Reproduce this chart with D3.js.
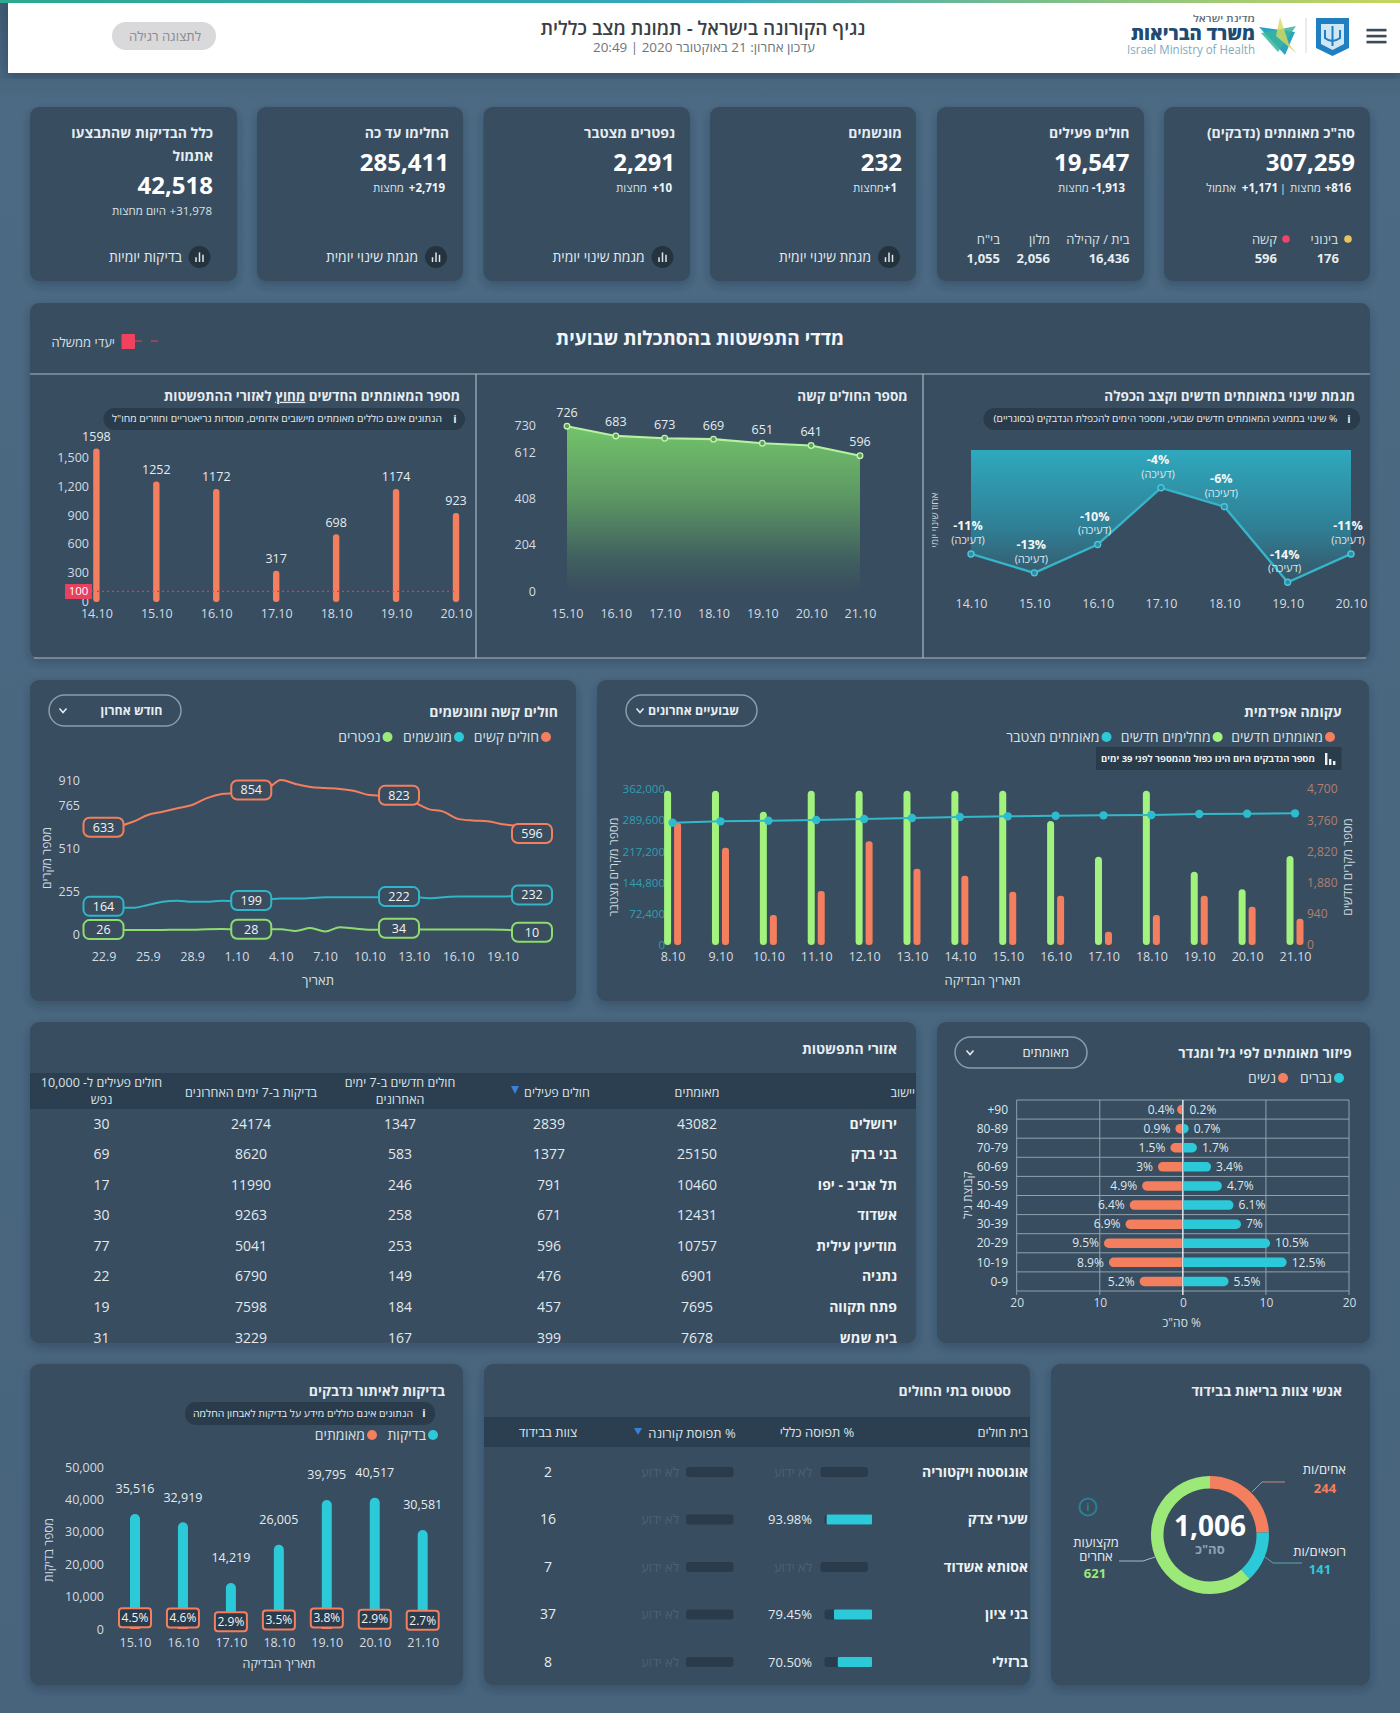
<!DOCTYPE html>
<html lang="he"><head><meta charset="utf-8"><title>נגיף הקורונה בישראל</title>
<script src="https://cdnjs.cloudflare.com/ajax/libs/d3/7.8.5/d3.min.js"></script>
<style>html,body{margin:0;padding:0;background:#48647c;overflow:hidden}svg{display:block}text{font-family:"Open Sans","Liberation Sans","DejaVu Sans",sans-serif}</style>
</head><body><svg id="c" width="1400" height="1713" viewBox="0 0 1400 1713"></svg>
<script>
// ---------- data ----------
const weekA=['14.10','15.10','16.10','17.10','18.10','19.10','20.10'];
const weekB=['15.10','16.10','17.10','18.10','19.10','20.10','21.10'];
const outsideCases=[1598,1252,1172,317,698,1174,923];
const outsideTicks=[0,300,600,900,1200,1500];
const severeWeek=[726,683,673,669,651,641,596];
const severeWeekTicks=[0,204,408,612,730];
const changePct=[-11,-13,-10,-4,-6,-14,-11];
const trendDays=['22.9','23.9','24.9','25.9','26.9','27.9','28.9','29.9','30.9','1.10','2.10','3.10','4.10','5.10','6.10','7.10','8.10','9.10','10.10','11.10','12.10','13.10','14.10','15.10','16.10','17.10','18.10','19.10','20.10','21.10'];
const trendTickDays=['22.9','25.9','28.9','1.10','4.10','7.10','10.10','13.10','16.10','19.10'];
const severeSeries=[633,640,666,706,725,746,765,806,830,836,854,860,913,890,872,866,860,848,824,820,823,783,741,726,683,673,669,651,641,596];
const ventSeries=[164,156,155,172,191,197,191,191,197,195,199,205,210,210,213,218,218,218,218,218,222,220,212,218,222,222,222,222,228,232];
const deathSeries=[26,24,24,24,24,25,25,28,29,28,28,28,28,18,35,15,40,32,25,27,34,28,27,27,26,26,26,25,20,10];
const trendBoxIdx=[0,10,20,29];
const trendTicks=[0,255,510,765,910];
const epiDays=['8.10','9.10','10.10','11.10','12.10','13.10','14.10','15.10','16.10','17.10','18.10','19.10','20.10','21.10'];
const epiRecovered=[4650,4650,4018,4650,4650,4650,4650,4650,3736,2662,4650,2210,1677,2682];
const epiNew=[3686,2933,904,1627,3123,2300,2089,1607,1486,402,904,1486,1155,794];
const epiCumulative=[283900,286960,288500,290060,292400,294700,297000,298570,300100,300900,301670,304000,304760,305540];
const epiLeftTicks=[0,72400,144800,217200,289600,362000];
const epiRightTicks=[0,940,1880,2820,3760,4700];
const ageGroups=['+90','80-89','70-79','60-69','50-59','40-49','30-39','20-29','10-19','0-9'];
const agesWomen=[0.4,0.9,1.5,3,4.9,6.4,6.9,9.5,8.9,5.2];
const agesMen=[0.2,0.7,1.7,3.4,4.7,6.1,7,10.5,12.5,5.5];
const ageTicks=[-20,-10,0,10,20];
const cityHeads=[['יישוב'],['מאומתים'],['חולים פעילים'],['חולים חדשים ב-7 ימים','האחרונים'],['בדיקות ב-7 ימים האחרונים'],['חולים פעילים ל- 10,000','נפש']];
const cities=['ירושלים','בני ברק','תל אביב - יפו','אשדוד','מודיעין עילית','נתניה','פתח תקווה','בית שמש'];
const cityConfirmed=[43082,25150,10460,12431,10757,6901,7695,7678];
const cityActive=[2839,1377,791,671,596,476,457,399];
const cityNew7=[1347,583,246,258,253,149,184,167];
const cityTests7=[24174,8620,11990,9263,5041,6790,7598,3229];
const cityPer10k=[30,69,17,30,77,22,19,31];
const tests=[35516,32919,14219,26005,39795,40517,30581];
const testPct=[4.5,4.6,2.9,3.5,3.8,2.9,2.7];
const testTicks=[0,10000,20000,30000,40000,50000];
const hospitals=['אוגוסטה ויקטוריה','שערי צדק','אסותא אשדוד','בני ציון','ברזילי'];
const hospGeneral=[null,95.5,null,80,72];
const hospGeneralLabel=['לא ידוע','93.98%','לא ידוע','79.45%','70.50%'];
const hospStaff=[2,16,7,37,8];
const staffLabels=['אחים/ות','רופאים/ות','מקצועות אחרים'];
const staffValues=[244,141,621];

// ---------- palette ----------
const ORANGE='#f47f5e',TEAL='#2cc9d8',GREEN='#9ce878',BRIGHT='#a2f27e',CARD='#394d5f',TXT='#e6ecf1',TICK='#d3dce3',DARK='#2a3c4c';
const svg=d3.select('#c');
const defs=svg.append('defs');
function grad(id,stops,y1,y2,x2){const g=defs.append('linearGradient').attr('id',id).attr('gradientUnits','userSpaceOnUse');
 if(x2!==undefined){g.attr('x1',0).attr('x2',x2).attr('y1',0).attr('y2',0)}else{g.attr('x1',0).attr('x2',0).attr('y1',y1).attr('y2',y2)}
 stops.forEach(s=>g.append('stop').attr('offset',s[0]).attr('stop-color',s[1]));}
grad('bg',[[0,'#3f5a72'],[.06,'#4c6a83'],[1,'#48647d']],0,1713);
grad('strip',[[0,'#2ea98f'],[.5,'#34a7bb'],[1,'#c6d65c']],0,0,1400);
grad('gArea',[[0,'#72c46a'],[.45,'#5b9563'],[.8,'#40605f'],[1,CARD]],426,591);
grad('tArea',[[0,'#2fa9be'],[.55,'#2f7f95'],[1,CARD]],449,592);
defs.append('filter').attr('id','sh').attr('x','-5%').attr('y','-5%').attr('width','110%').attr('height','112%')
 .append('feDropShadow').attr('dx',0).attr('dy',4).attr('stdDeviation',5).attr('flood-color','#1d2c3a').attr('flood-opacity',.35);
defs.append('clipPath').attr('id','cityClip').append('rect').attr('x',30).attr('y',1022).attr('width',886).attr('height',321);

const HE=/[\u0590-\u05FF]/;
function T(g,x,y,s,o={}){const he=HE.test(s);const a=o.a||'r';
 const anchor=he?{r:'start',m:'middle',l:'end'}[a]:{r:'end',m:'middle',l:'start'}[a];
 const n=g.append('text').attr('x',x).attr('y',y).attr('dy','.35em').attr('text-anchor',anchor)
  .attr('font-size',o.size||13).attr('font-weight',o.w||400).attr('fill',o.fill||TXT).style('direction',he?'rtl':'ltr').text(s);
 if(o.rot)n.attr('transform',`rotate(${o.rot} ${x} ${y})`);
 if(o.op)n.attr('opacity',o.op);
 if(o.len)n.attr('textLength',o.len).attr('lengthAdjust','spacingAndGlyphs');
 return n;}
function card(x,y,x2,y2){svg.append('rect').attr('x',x).attr('y',y).attr('width',x2-x).attr('height',y2-y).attr('rx',9).attr('fill',CARD).attr('filter','url(#sh)');}
function pill(x1,x2,y1,y2,ix,tx,s,len){svg.append('rect').attr('x',x1).attr('y',y1).attr('width',x2-x1).attr('height',y2-y1).attr('rx',11).attr('fill','#2a3b4b');
 T(svg,ix,(y1+y2)/2,'i',{size:11,w:700,a:'m'});T(svg,tx,(y1+y2)/2,s,{size:9.5,len});}
function dropdown(x1,x2,y1,y2,tx,s,cx,w,len){svg.append('rect').attr('x',x1).attr('y',y1).attr('width',x2-x1).attr('height',y2-y1).attr('rx',15.5).attr('fill','none').attr('stroke','#8b9dab').attr('stroke-width',1.5);
 T(svg,tx,(y1+y2)/2,s,{size:13,w,len});
 const my=(y1+y2)/2;svg.append('path').attr('d',`M${cx-3.5} ${my-2}L${cx} ${my+2}L${cx+3.5} ${my-2}`).attr('fill','none').attr('stroke',TXT).attr('stroke-width',1.5);}
function dot(x,y,c,r=5){svg.append('circle').attr('cx',x).attr('cy',y).attr('r',r).attr('fill',c);}
function legend(items,y){items.forEach(i=>{dot(i[0],y,i[2]);T(svg,i[0]-7,y,i[1],{size:14,fill:'#d7e0e6'});});}
function styleAxis(g,size,fill){g.select('.domain').remove();g.selectAll('.tick line').remove();g.selectAll('text').attr('font-size',size).attr('fill',fill).attr('font-family','"Open Sans","Liberation Sans",sans-serif');return g;}
function ptAxis(scale,vals,y,size=12.5){const g=svg.append('g').attr('transform',`translate(0,${y})`).call(d3.axisBottom(scale).tickValues(vals).tickSize(0).tickPadding(0));
 styleAxis(g,size,TICK);g.selectAll('text').attr('dy','.35em');return g;}
function yAxis(scale,vals,x,size=12.5,fill=TICK,fmt=d3.format(','),right=false){const ax=(right?d3.axisRight:d3.axisLeft)(scale).tickValues(vals).tickSize(0).tickPadding(0).tickFormat(fmt);
 const g=svg.append('g').attr('transform',`translate(${x},0)`).call(ax);styleAxis(g,size,fill);return g;}

// ---------- page ----------
svg.append('rect').attr('width',1400).attr('height',1713).attr('fill','url(#bg)');
svg.append('rect').attr('x',8).attr('y',0).attr('width',1392).attr('height',73).attr('fill','#fff').attr('filter','url(#sh)');
svg.append('rect').attr('x',0).attr('y',0).attr('width',1400).attr('height',3).attr('fill','url(#strip)');
T(svg,703,28,'נגיף הקורונה בישראל - תמונת מצב כללית',{a:'m',size:19,w:600,fill:'#3a3f46',len:325});
T(svg,704,47,'עדכון אחרון: 21 באוקטובר 2020 | 20:49',{a:'m',size:13,fill:'#6c7680',len:222});
svg.append('rect').attr('x',112).attr('y',22).attr('width',104).attr('height',28).attr('rx',14).attr('fill','#d9d9dc');
T(svg,165,36,'לתצוגה רגילה',{a:'m',size:13,fill:'#8a8a8e',len:72});
[30,36,42].forEach(y=>svg.append('rect').attr('x',1366.5).attr('y',y-1.2).attr('width',20).attr('height',2.6).attr('fill','#3c4a58'));
svg.append('path').attr('d','M1316 18H1349V48L1332.5 56L1316 48Z').attr('fill','#1f7fc0');
svg.append('path').attr('d','M1321 24H1344V44L1332.5 50L1321 44Z').attr('fill','#cfe6f4');
svg.append('path').attr('d','M1332.5 26V46M1325 30V38Q1332 44 1340 38V30').attr('fill','none').attr('stroke','#1f7fc0').attr('stroke-width',2);
svg.append('line').attr('x1',1306).attr('x2',1306).attr('y1',18).attr('y2',53).attr('stroke','#d5d8dc');
svg.append('path').attr('d','M1259 27L1295 32L1285 55Z').attr('fill','#2aa3c4');
svg.append('path').attr('d','M1261 33L1296 26L1278 52Z').attr('fill','#37b59d').attr('opacity',.85);
svg.append('path').attr('d','M1280 17L1289 44L1297 54L1276 36Z').attr('fill','#d8d860').attr('opacity',.8);
T(svg,1255,18.5,'מדינת ישראל',{size:9,w:600,fill:'#5d6d78',len:62});
T(svg,1255,34,'משרד הבריאות',{size:18,w:800,fill:'#1e4b73',len:124});
T(svg,1255,50,'Israel Ministry of Health',{size:12,fill:'#82aabd',len:128});

// ---------- KPI cards ----------
const kpiBoxes=[[1164,1370],[937,1144],[710,916],[483.5,690],[257,463],[30,237]];
kpiBoxes.forEach(b=>card(b[0],107,b[1],281));
const H={size:14,w:700},V={size:24,w:700,fill:'#fff'},SB={size:11.5,w:700,fill:'#f0f4f6'},SN={size:11.5,fill:'#d7e0e6'};
T(svg,1355,133,'סה"כ מאומתים (נדבקים)',H);T(svg,1355,163,'307,259',V);
T(svg,1351,188,'+816',SB);T(svg,1321,188,'מחצות',SN);T(svg,1286,188,'|',SN);T(svg,1278,188,'+1,171',SB);T(svg,1236,188,'אתמול',SN);
dot(1348,239,'#e6c65c',3.8);T(svg,1338,239,'בינוני',{size:13,fill:'#d7e0e6'});T(svg,1339,258,'176',{size:13,w:700});
dot(1286,239,'#f0456a',3.8);T(svg,1277,239,'קשה',{size:13,fill:'#d7e0e6'});T(svg,1277,258,'596',{size:13,w:700});
T(svg,1129.5,133,'חולים פעילים',H);T(svg,1129.5,163,'19,547',V);
T(svg,1125,188,'-1,913',SB);T(svg,1089,188,'מחצות',SN);
[[1129.5,'בית / קהילה','16,436'],[1050,'מלון','2,056'],[1000,'בי"ח','1,055']].forEach(d=>{T(svg,d[0],239,d[1],{size:13,fill:'#d7e0e6'});T(svg,d[0],258,d[2],{size:13,w:700});});
function link(ix,tx,s,l){svg.append('circle').attr('cx',ix).attr('cy',257).attr('r',11).attr('fill','#25333f');
 [[-3.5,3],[0,6],[3.5,4.5]].forEach(b=>svg.append('line').attr('x1',ix+b[0]).attr('x2',ix+b[0]).attr('y1',262).attr('y2',262-b[1]*1.6).attr('stroke','#dfe6ea').attr('stroke-width',1.5));
 T(svg,tx,257,s,{size:14,fill:'#e4ebf0',len:l});}
T(svg,902,133,'מונשמים',H);T(svg,902,163,'232',V);T(svg,897,188,'+1',SB);T(svg,884,188,'מחצות',SN);link(889,871,'מגמת שינוי יומית',92);
T(svg,675,133,'נפטרים מצטבר',H);T(svg,675,163,'2,291',V);T(svg,672,188,'+10',SB);T(svg,647,188,'מחצות',SN);link(662.5,644.6,'מגמת שינוי יומית',92);
T(svg,449,133,'החלימו עד כה',H);T(svg,449,163,'285,411',V);T(svg,445,188,'+2,719',SB);T(svg,404,188,'מחצות',SN);link(436,418,'מגמת שינוי יומית',92);
T(svg,213,133,'כלל הבדיקות שהתבצעו',H);T(svg,213,156,'אתמול',H);T(svg,213,186,'42,518',V);T(svg,212,211,'+31,978',SN);T(svg,166,211,'היום מחצות',SN);link(199.5,182,'בדיקות יומיות',73);

// ---------- weekly panel ----------
card(30,303,1370,658);
T(svg,700,338,'מדדי התפשטות בהסתכלות שבועית',{a:'m',size:19,w:700,fill:'#f2f5f7'});
T(svg,115,342,'יעדי ממשלה',{size:13,fill:'#d7e0e6'});
svg.append('rect').attr('x',121.5).attr('y',334).attr('width',13.5).attr('height',15).attr('rx',1).attr('fill','#f0415f');
svg.append('line').attr('x1',135).attr('x2',164).attr('y1',341).attr('y2',341).attr('stroke','#f0415f').attr('stroke-width',1.2).attr('stroke-dasharray','7 9');
const rule=(a,b,c,d)=>svg.append('line').attr('x1',a).attr('y1',b).attr('x2',c).attr('y2',d).attr('stroke','#a9b9c4').attr('stroke-width',1.2);
rule(30,374,1370,374);rule(34,658,1366,658);rule(476,374,476,658);rule(923,374,923,658);

// chart: outside cases
const t1=T(svg,460,396,'',{size:13.5,w:700});t1.style('direction','rtl').attr('text-anchor','start');
t1.append('tspan').text('מספר המאומתים החדשים ');t1.append('tspan').style('text-decoration','underline').text('מחוץ');t1.append('tspan').text(' לאזורי ההתפשטות');
pill(103.5,465,408,430,455,442,'הנתונים אינם כוללים מאומתים מישובים אדומים, מוסדות גריאטריים וחוזרים מחו"ל',330);
const x1=d3.scalePoint().domain(weekA).range([96.4,456]);
const y1=d3.scaleLinear().domain([0,1500]).range([601,457.8]);
yAxis(y1,outsideTicks,89);
svg.append('g').selectAll('rect').data(outsideCases).join('rect').attr('x',(d,i)=>x1(weekA[i])-3.2).attr('width',6.4).attr('y',d=>y1(d)).attr('height',d=>y1(0)-y1(d)+1).attr('rx',3).attr('fill',ORANGE);
svg.append('g').selectAll('text').data(outsideCases).join('text').attr('x',(d,i)=>x1(weekA[i])).attr('y',d=>y1(d)-12).attr('dy','.35em').attr('text-anchor','middle').attr('font-size',12.5).attr('fill',TXT).text(d=>d);
svg.append('rect').attr('x',65).attr('y',584).attr('width',27).attr('height',15).attr('fill','#e8405f');
T(svg,78.5,590.5,'100',{a:'m',size:11.5,fill:'#fff'});
svg.append('line').attr('x1',92).attr('x2',456).attr('y1',y1(100)).attr('y2',y1(100)).attr('stroke','#d23f5f').attr('stroke-width',1.3).attr('stroke-dasharray','2 3');
ptAxis(x1,weekA,614);

// chart: severe area
T(svg,907.6,396,'מספר החולים קשה',{size:13.5,w:700});
const x2=d3.scalePoint().domain(weekB).range([567,860]);
const y2=d3.scaleLinear().domain([0,730]).range([591,425.3]);
yAxis(y2,severeWeekTicks,536);
svg.append('path').attr('d',d3.area().x((d,i)=>x2(weekB[i])).y0(y2(0)).y1(d=>y2(d))(severeWeek)).attr('fill','url(#gArea)');
svg.append('path').attr('d',d3.line().x((d,i)=>x2(weekB[i])).y(d=>y2(d))(severeWeek)).attr('fill','none').attr('stroke','#b9efa4').attr('stroke-width',2.2);
svg.append('g').selectAll('circle').data(severeWeek).join('circle').attr('cx',(d,i)=>x2(weekB[i])).attr('cy',d=>y2(d)).attr('r',2.8).attr('fill','#5c9f58').attr('stroke','#c6f2b2').attr('stroke-width',1.3);
svg.append('g').selectAll('text').data(severeWeek).join('text').attr('x',(d,i)=>x2(weekB[i])).attr('y',d=>y2(d)-14).attr('dy','.35em').attr('text-anchor','middle').attr('font-size',12.5).attr('fill',TXT).text(d=>d);
ptAxis(x2,weekB,614);

// chart: change percent
T(svg,1355,396,'מגמת שינוי במאומתים חדשים וקצב הכפלה',{size:13.5,w:700});
pill(983.5,1360,408,430,1349,1337.5,'% שינוי בממוצע המאומתים חדשים שבועי, ומספר הימים להכפלת הנדבקים (בסוגריים)',344);
const x3=d3.scalePoint().domain(weekA).range([971,1351]);
const y3=d3.scaleLinear().domain([0,-14]).range([450,582.3]);
svg.append('path').attr('d',d3.area().x((d,i)=>x3(weekA[i])).y0(y3(0)).y1(d=>y3(d))(changePct)).attr('fill','url(#tArea)');
svg.append('path').attr('d',d3.line().x((d,i)=>x3(weekA[i])).y(d=>y3(d))(changePct)).attr('fill','none').attr('stroke','#36b4c8').attr('stroke-width',2.4);
svg.append('g').selectAll('circle').data(changePct).join('circle').attr('cx',(d,i)=>x3(weekA[i])).attr('cy',d=>y3(d)).attr('r',3).attr('fill','#2f8ea3').attr('stroke','#4cc6d8').attr('stroke-width',1.4);
changePct.forEach((d,i)=>{const px=x3(weekA[i])-3,py=y3(d);T(svg,px,py-28,d+'%',{a:'m',size:12.5,w:700,fill:'#f4f7f8'});T(svg,px,py-14,'(דעיכה)',{a:'m',size:11,fill:'#dfe7ec'});});
ptAxis(x3,weekA,604);
T(svg,934,520,'אחוז שינוי יומי',{a:'m',size:10,rot:-90,fill:'#c9d5dd'});

// ---------- trend ----------
card(30,680,576,1001);
T(svg,558,712,'חולים קשה ומונשמים',{size:14,w:700});
dropdown(49,181,695,726,162.5,'חודש אחרון',63,700,62);
legend([[546,'חולים קשים',ORANGE],[459,'מונשמים',TEAL],[387.5,'נפטרים',GREEN]],737);
const xT=d3.scalePoint().domain(trendDays).range([103.5,532]);
const yT=d3.scaleLinear().domain([0,910]).range([934,780.6]);
yAxis(yT,trendTicks,80);
ptAxis(xT,trendTickDays,957);
const ln=d3.line().x((d,i)=>xT(trendDays[i])).y(d=>yT(d)).curve(d3.curveMonotoneX);
[[severeSeries,ORANGE],[ventSeries,'#31b5c8'],[deathSeries,'#8fdc6e']].forEach(s=>{
 svg.append('path').attr('d',ln(s[0])).attr('fill','none').attr('stroke',s[1]).attr('stroke-width',2);
 trendBoxIdx.forEach(i=>{const px=xT(trendDays[i]),py=yT(s[0][i]);
  svg.append('rect').attr('x',px-20).attr('y',py-9.5).attr('width',40).attr('height',19).attr('rx',6).attr('fill',CARD).attr('stroke',s[1]).attr('stroke-width',2);
  T(svg,px,py,String(s[0][i]),{a:'m',size:12.5,fill:'#f0f4f6'});});});
T(svg,47,858,'מספר מקרים',{a:'m',size:12,rot:-90,fill:'#d3dce3'});
T(svg,318,980,'תאריך',{a:'m',size:13,fill:'#d7e0e6'});

// ---------- epidemic ----------
card(597,680,1369,1001);
T(svg,1341.5,712,'עקומה אפידמית',{size:14,w:700});
dropdown(626,757,695,726,739,'שבועיים אחרונים',640,700,91);
legend([[1330,'מאומתים חדשים',ORANGE],[1217.6,'מחלימים חדשים',BRIGHT],[1106.5,'מאומתים מצטבר',TEAL]],737);
svg.append('rect').attr('x',1096).attr('y',747).attr('width',245.5).attr('height',23).attr('fill','#2a3b4a');
T(svg,1315,759,'מספר הנדבקים היום הינו כפול מהמספר לפני 39 ימים',{size:9,w:700,fill:'#eef2f4',len:214});
[[1325,12],[1329,6],[1333,4]].forEach(b=>svg.append('rect').attr('x',b[0]).attr('y',765-b[1]).attr('width',2.4).attr('height',b[1]).attr('fill','#eef2f4'));
const xE=d3.scalePoint().domain(epiDays).range([672.6,1295]);
const yER=d3.scaleLinear().domain([0,4700]).range([945,789]);
const yEL=d3.scaleLinear().domain([0,362000]).range([945,789]);
yAxis(yEL,epiLeftTicks,665,11.5,'#2f9fb2');
yAxis(yER,epiRightTicks,1307,12,'#b07f72',d3.format(','),true);
svg.append('g').selectAll('rect').data(epiRecovered).join('rect').attr('x',(d,i)=>xE(epiDays[i])-8.5).attr('width',7).attr('y',d=>yER(d)).attr('height',d=>945-yER(d)).attr('rx',3.5).attr('fill',BRIGHT);
svg.append('g').selectAll('rect').data(epiNew).join('rect').attr('x',(d,i)=>xE(epiDays[i])+1.5).attr('width',7).attr('y',d=>yER(d)).attr('height',d=>945-yER(d)).attr('rx',3).attr('fill',ORANGE);
svg.append('path').attr('d',d3.line().x((d,i)=>xE(epiDays[i])).y(d=>yEL(d))(epiCumulative)).attr('fill','none').attr('stroke','#33b7ca').attr('stroke-width',2);
svg.append('g').selectAll('circle').data(epiCumulative).join('circle').attr('cx',(d,i)=>xE(epiDays[i])).attr('cy',d=>yEL(d)).attr('r',4.2).attr('fill','#2dbccd');
ptAxis(xE,epiDays,957);
T(svg,614,867,'מספר מקרים מצטבר',{a:'m',size:12,rot:-90,fill:'#cdd8df'});
T(svg,1348,867,'מספר מקרים חדשים',{a:'m',size:12,rot:-90,fill:'#cdd8df'});
T(svg,982.5,980,'תאריך הבדיקה',{a:'m',size:13,fill:'#d7e0e6'});

// ---------- cities ----------
card(30,1022,916,1343);
T(svg,897,1049,'אזורי התפשטות',{size:14,w:700});
svg.append('rect').attr('x',30).attr('y',1073).attr('width',886).attr('height',36).attr('fill','#2c3f50');
const colX=[915,697,549,400,251,101.5];
cityHeads.forEach((h,c)=>{const x=c===2?557:colX[c];const a=c===0?'r':'m';
 if(h.length===1)T(svg,x,1093,h[0],{a,size:12.5,fill:'#dbe3e8'});
 else{T(svg,x,1083,h[0],{a,size:12.5,fill:'#dbe3e8'});T(svg,x,1100,h[1],{a,size:12.5,fill:'#dbe3e8'});}});
svg.append('path').attr('d','M511 1086H519L515 1094Z').attr('fill','#3b7fd9');
const rowScale=d3.scalePoint().domain(cities).range([1124,1337.6]);
const cityG=svg.append('g').attr('clip-path','url(#cityClip)');
cities.forEach((c,i)=>{const y=rowScale(c);
 T(cityG,897,y,c,{size:14,w:700,fill:'#eef2f5'});
 [cityConfirmed,cityActive,cityNew7,cityTests7,cityPer10k].forEach((col,k)=>T(cityG,colX[k+1],y,String(col[i]),{a:'m',size:14,fill:'#e2e9ee'}));});

// ---------- age pyramid ----------
card(937,1022,1370,1343);
T(svg,1351.7,1053,'פיזור מאומתים לפי גיל ומגדר',{size:14,w:700});
dropdown(955,1087,1037,1068,1069,'מאומתים',970,400);
legend([[1339,'גברים',TEAL],[1283,'נשים',ORANGE]],1078);
const xP=d3.scaleLinear().domain([-20,20]).range([1016.7,1349]);
const yP=d3.scaleBand().domain(ageGroups).range([1100,1291]);
const gridC='#8fa1ae';
ageGroups.concat(['end']).forEach((a,i)=>{const y=a==='end'?1291:yP(a);svg.append('line').attr('x1',xP(-20)).attr('x2',xP(20)).attr('y1',y).attr('y2',y).attr('stroke',gridC).attr('stroke-width',1);});
ageTicks.forEach(v=>svg.append('line').attr('x1',xP(v)).attr('x2',xP(v)).attr('y1',1100).attr('y2',1295).attr('stroke',v===0?'#f0f4f6':gridC).attr('stroke-width',v===0?1.4:1));
function hbar(x0,x1v,y,h,c){const s=x1v>x0?1:-1,r=Math.min(h/2,Math.abs(x1v-x0));
 svg.append('path').attr('d',`M${x0} ${y-h/2}H${x1v-s*r}A${r} ${r} 0 0 ${s>0?1:0} ${x1v-s*r} ${y+h/2}H${x0}Z`).attr('fill',c);}
ageGroups.forEach((a,i)=>{const y=yP(a)+yP.bandwidth()/2;
 hbar(xP(0)-1,xP(-agesWomen[i]),y,9.5,ORANGE);
 if(agesMen[i]>0.3)hbar(xP(0)+1,xP(agesMen[i]),y,9.5,TEAL);
 T(svg,xP(-agesWomen[i])-5,y,agesWomen[i]+'%',{size:12,fill:'#dfe7ec'});
 T(svg,xP(agesMen[i])+5,y,agesMen[i]+'%',{a:'l',size:12,fill:'#dfe7ec'});
 T(svg,1008,y,a,{size:12,fill:'#dfe7ec'});});
const pAx=svg.append('g').attr('transform','translate(0,1303)').call(d3.axisBottom(xP).tickValues(ageTicks).tickSize(0).tickPadding(0).tickFormat(d=>Math.abs(d)));
styleAxis(pAx,12,TICK);pAx.selectAll('text').attr('dy','.35em');
T(svg,1181.7,1323,'% סה"כ',{a:'m',size:12,fill:'#d7e0e6'});
T(svg,968,1195,'קבוצת גיל',{a:'m',size:12,rot:-90,fill:'#d3dce3'});

// ---------- tests ----------
card(30,1364,463,1685);
T(svg,445,1391,'בדיקות לאיתור נדבקים',{size:14,w:700});
pill(185,435,1402,1425,424,413,'הנתונים אינם כוללים מידע על בדיקות לאבחון החלמה',220);
legend([[433,'בדיקות',TEAL],[372,'מאומתים',ORANGE]],1435);
const xB=d3.scalePoint().domain(weekB).range([135,422.7]);
const yB=d3.scaleLinear().domain([0,50000]).range([1629,1467]);
yAxis(yB,testTicks,104);
svg.append('g').selectAll('rect').data(tests).join('rect').attr('x',(d,i)=>xB(weekB[i])-5).attr('width',10).attr('y',d=>yB(d)).attr('height',d=>1629-yB(d)).attr('rx',5).attr('fill',TEAL);
svg.append('g').selectAll('text').data(tests).join('text').attr('x',(d,i)=>xB(weekB[i])).attr('y',d=>yB(d)-25).attr('dy','.35em').attr('text-anchor','middle').attr('font-size',12.5).attr('fill',TXT).text(d3.format(','));
tests.forEach((d,i)=>{const c=d*testPct[i]/100,px=xB(weekB[i]),py=yB(c);
 svg.append('rect').attr('x',px-5).attr('y',py).attr('width',10).attr('height',1629-py).attr('fill',ORANGE);
 svg.append('rect').attr('x',px-16).attr('y',py-15.5).attr('width',32).attr('height',19).attr('rx',3).attr('fill',DARK).attr('stroke',ORANGE).attr('stroke-width',2);
 T(svg,px,py-6,testPct[i]+'%',{a:'m',size:12,fill:'#f0f4f6'});});
ptAxis(xB,weekB,1643);
T(svg,279,1664,'תאריך הבדיקה',{a:'m',size:12.5,fill:'#d7e0e6'});
T(svg,49,1550,'מספר בדיקות',{a:'m',size:12,rot:-90,fill:'#d3dce3'});

// ---------- hospitals ----------
card(484,1364,1030,1685);
T(svg,1011,1391,'סטטוס בתי החולים',{size:14,w:700});
svg.append('rect').attr('x',484).attr('y',1417).attr('width',546).attr('height',30).attr('fill','#2c3f50');
T(svg,1028,1432,'בית חולים',{size:13,fill:'#dbe3e8'});
T(svg,817,1432,'% תפוסה כללי',{a:'m',size:13,fill:'#dbe3e8'});
T(svg,692,1433,'% תפוסת קורונה',{a:'m',size:13,fill:'#dbe3e8'});
T(svg,548,1432,'צוות בבידוד',{a:'m',size:13,fill:'#dbe3e8'});
svg.append('path').attr('d','M634 1428H642L638 1435Z').attr('fill','#3b7fd9');
const wH=d3.scaleLinear().domain([0,100]).range([0,47.5]);
const yH=d3.scalePoint().domain(hospitals).range([1472,1662]);
hospitals.forEach((h,i)=>{const y=yH(h),v=hospGeneral[i];
 T(svg,1028,y,h,{size:14,w:700,fill:'#eef2f5'});
 const rx=v==null?868:872;
 svg.append('rect').attr('x',rx-wH(100)).attr('y',y-5).attr('width',wH(100)).attr('height',10).attr('rx',3).attr('fill','#2a3b4b');
 if(v!=null)svg.append('rect').attr('x',rx-wH(v)).attr('y',y-5).attr('width',wH(v)).attr('height',10).attr('rx',1).attr('fill',TEAL);
 T(svg,812,y,hospGeneralLabel[i],v==null?{size:13,fill:'#4d6172'}:{size:13,fill:'#e2e9ee'});
 svg.append('rect').attr('x',686).attr('y',y-5).attr('width',47.5).attr('height',10).attr('rx',3).attr('fill','#2a3b4b');
 T(svg,679,y,'לא ידוע',{size:13,fill:'#4d6172'});
 T(svg,548,y,String(hospStaff[i]),{a:'m',size:14,fill:'#e6ecf1'});});

// ---------- staff ----------
card(1051,1364,1370,1685);
T(svg,1342,1391,'אנשי צוות בריאות בבידוד',{size:14,w:700});
const pie=d3.pie().sort(null)(staffValues);
const arc=d3.arc().innerRadius(46.5).outerRadius(59);
const dg=svg.append('g').attr('transform','translate(1210,1535)');
dg.selectAll('path').data(pie).join('path').attr('d',arc).attr('fill',(d,i)=>[ORANGE,TEAL,GREEN][i]);
T(svg,1210,1526,d3.format(',')(d3.sum(staffValues)),{a:'m',size:28,w:700,fill:'#fff'});
T(svg,1210,1549,'סה"כ',{a:'m',size:13,w:700,fill:'#8fa2b8'});
T(svg,1346,1469,staffLabels[0],{size:13,fill:'#e6ecf1'});T(svg,1325,1488,String(staffValues[0]),{a:'m',size:13,w:700,fill:ORANGE});
T(svg,1346,1551,staffLabels[1],{size:13,fill:'#e6ecf1'});T(svg,1320,1569,String(staffValues[1]),{a:'m',size:13,w:700,fill:TEAL});
T(svg,1096,1542,'מקצועות',{a:'m',size:13,fill:'#e6ecf1'});T(svg,1096,1556,'אחרים',{a:'m',size:13,fill:'#e6ecf1'});T(svg,1095,1573,String(staffValues[2]),{a:'m',size:13,w:700,fill:GREEN});
const lead=d=>svg.append('path').attr('d',d[0]).attr('fill','none').attr('stroke',d[1]).attr('stroke-width',1);
lead(['M1252 1492L1262 1482H1285','#c98a86']);lead(['M1265 1557L1273 1563H1302','#5fa5b5']);lead(['M1155 1557L1143 1561H1119','#a9b9c4']);
svg.append('circle').attr('cx',1088).attr('cy',1507).attr('r',8.5).attr('fill','none').attr('stroke','#2c7f92').attr('stroke-width',2);
T(svg,1088,1507,'i',{a:'m',size:11,w:700,fill:'#2c7f92'});
</script></body></html>
